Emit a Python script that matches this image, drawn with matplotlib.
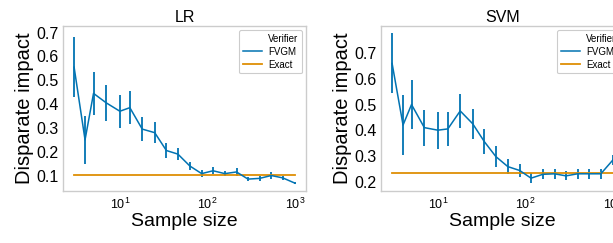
import matplotlib
matplotlib.use("Agg")
import matplotlib.pyplot as plt
from matplotlib.lines import Line2D

plt.rcParams['font.family'] = ['Liberation Sans', 'DejaVu Sans']

sample_size = [3, 4, 5, 7, 10, 13, 18, 25, 34, 46, 63, 86, 116, 158, 215, 291, 395, 536, 727, 1000]

# LR
lr_fvgm = [0.555, 0.25, 0.445, 0.405, 0.37, 0.385, 0.295, 0.28, 0.205, 0.19,
           0.14, 0.108, 0.12, 0.108, 0.115, 0.085, 0.088, 0.1, 0.09, 0.068]
lr_err = [0.125, 0.1, 0.09, 0.075, 0.07, 0.07, 0.05, 0.045, 0.03, 0.025,
          0.018, 0.015, 0.014, 0.012, 0.015, 0.01, 0.01, 0.013, 0.009, 0.004]
lr_exact = 0.102

# SVM
svm_fvgm = [0.66, 0.42, 0.5, 0.41, 0.40, 0.405, 0.475, 0.425, 0.355, 0.297,
            0.258, 0.243, 0.213, 0.228, 0.23, 0.222, 0.23, 0.23, 0.23, 0.284]
svm_err = [0.117, 0.118, 0.095, 0.07, 0.072, 0.065, 0.067, 0.058, 0.048, 0.04,
           0.03, 0.026, 0.02, 0.02, 0.02, 0.017, 0.02, 0.02, 0.02, 0.02]
svm_exact = 0.234

blue = '#0173B2'
orange = '#DE8F05'

fig = plt.figure(figsize=(6.13, 2.43), dpi=100)
ax1 = fig.add_axes([63 / 613, 52 / 243, 243 / 613, 165 / 243])
ax2 = fig.add_axes([381 / 613, 52 / 243, 243 / 613, 165 / 243])


def draw(ax, title, vals, errs, exact, ylim, yticks):
    ax.errorbar(sample_size, vals, yerr=errs, color=blue, lw=1.1, elinewidth=1.3)
    ax.plot(sample_size, [exact] * len(sample_size), color=orange, lw=1.3)
    ax.set_xscale('log')
    ax.set_xlim(2.24, 1338)
    ax.set_ylim(*ylim)
    ax.set_yticks(yticks)
    ax.tick_params(length=0, pad=3)
    ax.tick_params(axis='y', labelsize=11.5)
    ax.tick_params(axis='x', labelsize=9, pad=4)
    ax.minorticks_off()
    for s in ax.spines.values():
        s.set_color('#cccccc')
        s.set_linewidth(1.0)
    ax.set_title(title, fontsize=11.5, pad=3)
    ax.set_xlabel('Sample size', fontsize=14, labelpad=1)
    ax.set_ylabel('Disparate impact', fontsize=14.5, labelpad=2)
    handles = [Line2D([], [], color='none'),
               Line2D([], [], color=blue, lw=1.1),
               Line2D([], [], color=orange, lw=1.3)]
    leg = ax.legend(handles, ['Verifier', 'FVGM', 'Exact'], loc='upper right',
                    fontsize=7, handlelength=2.0, handletextpad=0.6,
                    borderaxespad=0.4, labelspacing=0.3, framealpha=1,
                    edgecolor='#cccccc', fancybox=True)
    leg.get_frame().set_linewidth(0.8)


draw(ax1, 'LR', lr_fvgm, lr_err, lr_exact, (0.035, 0.728),
     [0.1, 0.2, 0.3, 0.4, 0.5, 0.6, 0.7])
draw(ax2, 'SVM', svm_fvgm, svm_err, svm_exact, (0.163, 0.806),
     [0.2, 0.3, 0.4, 0.5, 0.6, 0.7])

fig.savefig('out.png', dpi=100)
